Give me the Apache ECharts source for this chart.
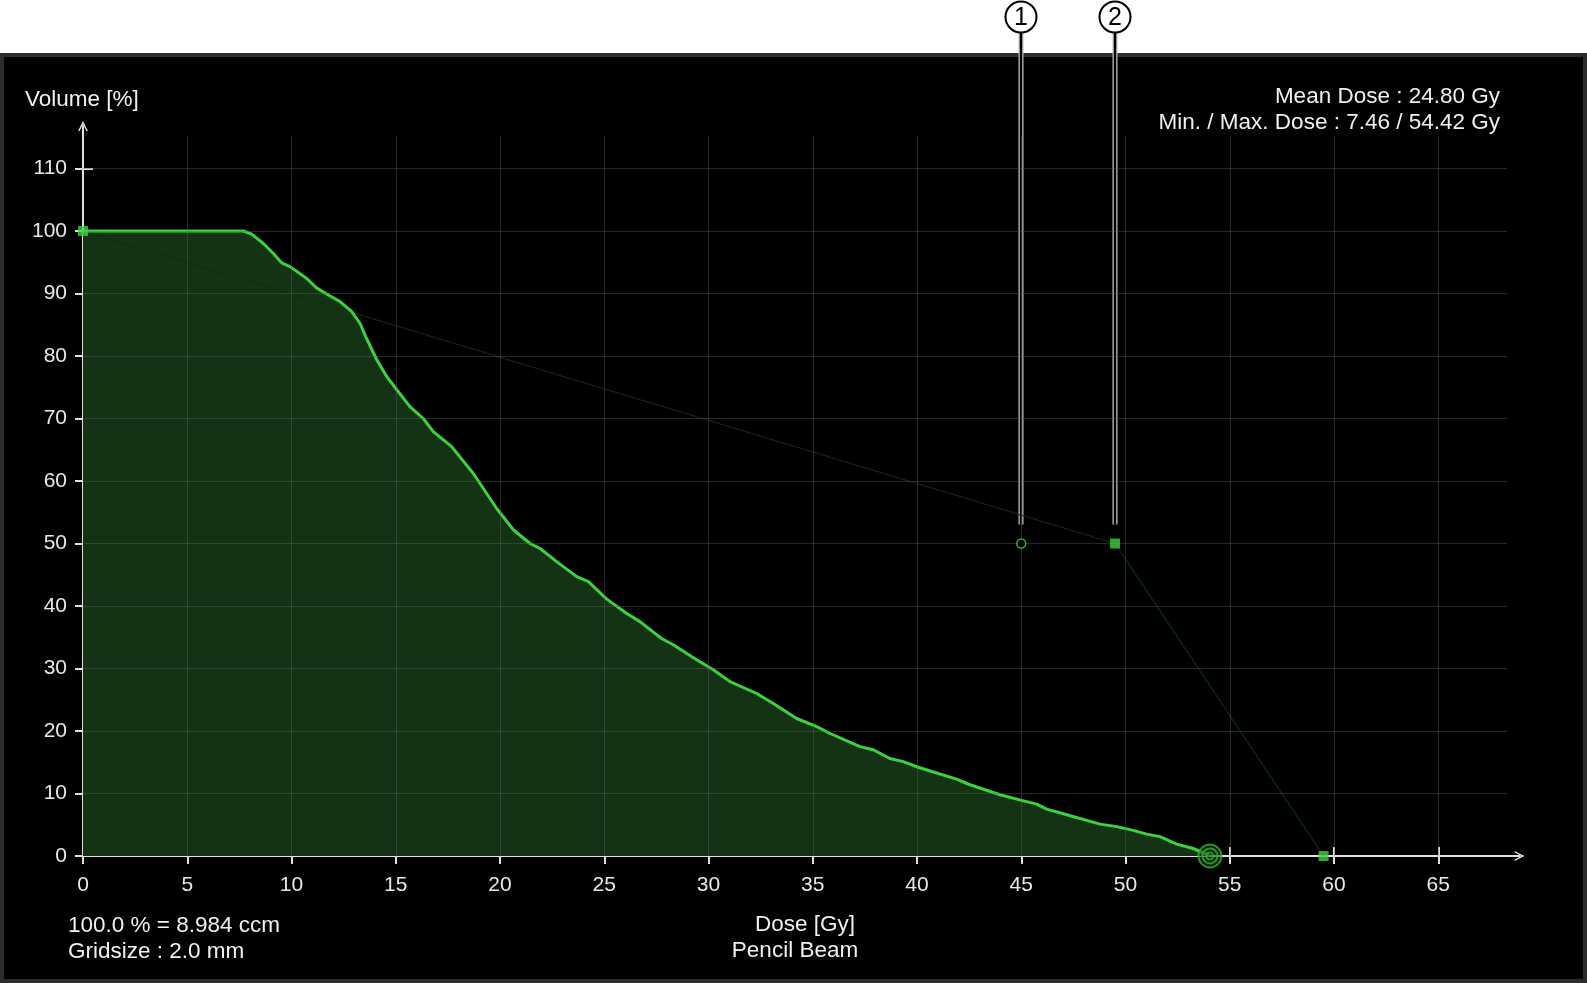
<!DOCTYPE html>
<html>
<head>
<meta charset="utf-8">
<script src="https://cdn.jsdelivr.net/npm/echarts@6/dist/echarts.min.js"></script>
<style>
  html, body { margin: 0; padding: 0; background: #ffffff; }
  #panel { position: absolute; left: 0; top: 53px; width: 1579px; height: 922px; background: #000; border: 4px solid #2d2d2d; }
  #chart { position: absolute; left: 0; top: 0; width: 1587px; height: 983px; }
</style>
</head>
<body>
<div id="panel"></div>
<div id="chart"></div>
<script>
// ---- Data ----
const dvhDose = [0, 7.46, 7.7, 8.09, 8.65, 9.13, 9.53, 9.93, 10.73, 11.2, 11.85, 12.33, 12.89, 13.29, 13.6, 14.09, 14.57, 15.05, 15.68, 16.32, 16.8, 17.68, 18.72, 19.84, 20.64, 21.44, 21.92, 22.72, 23.68, 24.24, 25.12, 26.08, 26.71, 27.75, 28.31, 29.43, 30.23, 31.03, 32.31, 33.11, 34.23, 35.19, 35.83, 37.27, 37.9, 38.7, 39.34, 40.06, 41.02, 41.9, 42.54, 43.98, 45.02, 45.74, 46.22, 47.18, 48.78, 49.58, 50.37, 51.02, 51.65, 52.46, 53.25, 53.81, 54.05];
const dvhVolume = [100, 100, 100, 99.5, 98.0, 96.4, 94.9, 94.3, 92.4, 90.9, 89.6, 88.7, 87.1, 85.2, 82.8, 79.4, 76.7, 74.6, 71.9, 70.0, 67.9, 65.5, 61.2, 55.6, 52.2, 50.0, 49.2, 47.1, 44.7, 43.9, 41.1, 38.8, 37.5, 34.8, 33.8, 31.4, 29.8, 27.9, 26.0, 24.4, 22.0, 20.7, 19.6, 17.5, 17.0, 15.6, 15.1, 14.2, 13.2, 12.3, 11.4, 9.8, 8.9, 8.3, 7.5, 6.6, 5.1, 4.7, 4.1, 3.5, 3.1, 1.9, 1.2, 0.4, 0];
const constraintDose = [0, 49.5, 59.5];
const constraintVolume = [100, 50, 0];
const objectivePoint = [45, 50];
const maxDosePoint = [54.05, 0];
const calloutLabels = ['1', '2'];
const xTicks = [0, 5, 10, 15, 20, 25, 30, 35, 40, 45, 50, 55, 60, 65];
const yTicks = [0, 10, 20, 30, 40, 50, 60, 70, 80, 90, 100, 110];
const infoTopRight = ['Mean Dose : 24.80 Gy', 'Min. / Max. Dose : 7.46 / 54.42 Gy'];
const infoBottomLeft = ['100.0 % = 8.984 ccm', 'Gridsize : 2.0 mm'];
const xTitle = ['Dose [Gy]', 'Pencil Beam'];
const yTitle = 'Volume [%]';

// ---- Styles / layout ----
const FONT = '"Liberation Sans", Arial, sans-serif';
const FS = 21;
const FS_TXT = 22.5;
const GREEN = '#3fd03f';
const GRID_TOP = 115.2;
const GRID_RIGHT = 68.3;
const X_MAX = 68.9;
const Y_MAX = 116.8;

const dvhData = dvhDose.map((d, i) => [d, dvhVolume[i]]);
const constraintData = constraintDose.map((d, i) => [d, constraintVolume[i]]);

const gridLines = [];
xTicks.forEach(x => { if (x > 0) gridLines.push([{ coord: [x, 0] }, { coord: [x, GRID_TOP] }]); });
yTicks.forEach(y => { if (y > 0) gridLines.push([{ coord: [0, y] }, { coord: [GRID_RIGHT, y] }]); });

const chevron = 'path://M0,10 L5,0 L10,10 L8.4,10 L5,3.2 L1.6,10 Z';
const axisText = { color: '#e8e8e8', fontFamily: FONT, fontSize: FS };

const chart = echarts.init(document.getElementById('chart'), null, { renderer: 'canvas' });

// pixel scale: y 6.25 px per unit, x 20.85 px per unit
const option = {
  backgroundColor: 'transparent',
  animation: false,
  grid: { left: 83, right: 1587 - (83 + X_MAX * 20.85), top: 856 - Y_MAX * 6.25, bottom: 127 },
  xAxis: [
    {
      type: 'value', min: 0, max: X_MAX, position: 'bottom',
      axisLine: { show: true, symbol: ['none', chevron], symbolSize: [10, 10], lineStyle: { color: '#e0e0e0', width: 2 } },
      axisTick: { show: true, inside: false, length: 8, customValues: xTicks, lineStyle: { color: '#e0e0e0', width: 2 } },
      axisLabel: { show: true, customValues: xTicks, margin: 19, lineHeight: 21, ...axisText },
      splitLine: { show: false }
    },
    {
      type: 'value', min: 0, max: X_MAX, position: 'bottom', offset: 0,
      axisLine: { show: false },
      axisTick: { show: true, inside: true, length: 9, customValues: xTicks, lineStyle: { color: '#e0e0e0', width: 2 } },
      axisLabel: { show: false },
      splitLine: { show: false }
    }
  ],
  yAxis: [
    {
      type: 'value', min: 0, max: Y_MAX, position: 'left',
      axisLine: { show: true, symbol: ['none', chevron], symbolSize: [10, 10], lineStyle: { color: '#e0e0e0', width: 2 } },
      axisTick: { show: true, inside: false, length: 8, customValues: yTicks, lineStyle: { color: '#e0e0e0', width: 2 } },
      axisLabel: { show: true, customValues: yTicks, margin: 16, ...axisText },
      splitLine: { show: false }
    },
    {
      type: 'value', min: 0, max: Y_MAX, position: 'left', offset: 0,
      axisLine: { show: false },
      axisTick: { show: true, inside: true, length: 10, customValues: yTicks, lineStyle: { color: '#e0e0e0', width: 2 } },
      axisLabel: { show: false },
      splitLine: { show: false }
    }
  ],
  series: [
    {
      name: 'area', type: 'line', data: dvhData, showSymbol: false, z: 1,
      lineStyle: { width: 0, opacity: 0 },
      areaStyle: { color: '#143214', opacity: 1, origin: 'start' },
      silent: true
    },
    {
      name: 'grid', type: 'line', data: [], z: 2, silent: true,
      markLine: {
        silent: true, symbol: ['none', 'none'], label: { show: false },
        lineStyle: { color: 'rgba(95,95,95,0.42)', width: 1, type: 'solid' },
        emphasis: { disabled: true },
        data: gridLines
      }
    },
    {
      name: 'constraint', type: 'line', data: constraintData, z: 3, silent: true,
      lineStyle: { color: '#0f2e0f', width: 1.3 },
      symbol: 'none'
    },
    {
      name: 'dvh', type: 'line', data: dvhData, z: 4, showSymbol: false, silent: true,
      lineStyle: { color: GREEN, width: 3 }
    },
    {
      name: 'constraintMarkers', type: 'scatter', data: constraintData, z: 6, silent: true,
      symbol: 'rect', symbolSize: 10, itemStyle: { color: GREEN }
    },
    {
      name: 'objective', type: 'scatter', data: [objectivePoint], z: 6, silent: true,
      symbol: 'circle', symbolSize: 9,
      itemStyle: { color: '#000', borderColor: GREEN, borderWidth: 1.5 }
    },
    {
      name: 'maxRings1', type: 'scatter', data: [maxDosePoint], z: 6, silent: true,
      symbol: 'circle', symbolSize: 23,
      itemStyle: { color: 'rgba(20,60,20,0.7)', borderColor: '#2fb02f', borderWidth: 2 }
    },
    {
      name: 'maxRings2', type: 'scatter', data: [maxDosePoint], z: 7, silent: true,
      symbol: 'circle', symbolSize: 15,
      itemStyle: { color: 'rgba(0,0,0,0)', borderColor: '#2fb02f', borderWidth: 2 }
    },
    {
      name: 'maxRings3', type: 'scatter', data: [maxDosePoint], z: 8, silent: true,
      symbol: 'circle', symbolSize: 7,
      itemStyle: { color: 'rgba(0,0,0,0)', borderColor: '#2fb02f', borderWidth: 2 }
    }
  ]
};
chart.setOption(option);

// ---- annotation graphics ----
const txt = (x, y, text, align) => ({
  type: 'text', x, y, silent: true,
  style: { text, fill: '#f0f0f0', font: FS_TXT + 'px ' + FONT, textAlign: align, textVerticalAlign: 'middle' }
});

const calloutAnchors = [objectivePoint, [constraintDose[1], constraintVolume[1]]];
const graphics = [];
calloutAnchors.forEach((pt, i) => {
  const p = chart.convertToPixel({ xAxisIndex: 0, yAxisIndex: 0 }, pt);
  const cx = Math.round(p[0]);
  const lineBottom = p[1] - 19;
  graphics.push({ type: 'rect', silent: true, shape: { x: cx - 2.5, y: 32, width: 5, height: lineBottom - 32 }, style: { fill: '#bdbdbd' } });
  graphics.push({ type: 'rect', silent: true, shape: { x: cx - 1.2, y: 32, width: 2.4, height: lineBottom - 32 }, style: { fill: '#000' } });
  graphics.push({ type: 'circle', silent: true, shape: { cx: cx, cy: 17, r: 15.5 }, style: { fill: '#fff', stroke: '#000', lineWidth: 2 } });
  graphics.push({ type: 'text', silent: true, x: cx, y: 18, style: { text: calloutLabels[i], fill: '#000', font: '25px ' + FONT, textAlign: 'center', textVerticalAlign: 'middle' } });
});
graphics.push(txt(25, 100, yTitle, 'left'));
graphics.push(txt(1500, 97, infoTopRight[0], 'right'));
graphics.push(txt(1500, 123, infoTopRight[1], 'right'));
graphics.push(txt(68, 926, infoBottomLeft[0], 'left'));
graphics.push(txt(68, 952, infoBottomLeft[1], 'left'));
graphics.push(txt(805, 925, xTitle[0], 'center'));
graphics.push(txt(795, 951, xTitle[1], 'center'));

chart.setOption({ graphic: graphics });
</script>
</body>
</html>
